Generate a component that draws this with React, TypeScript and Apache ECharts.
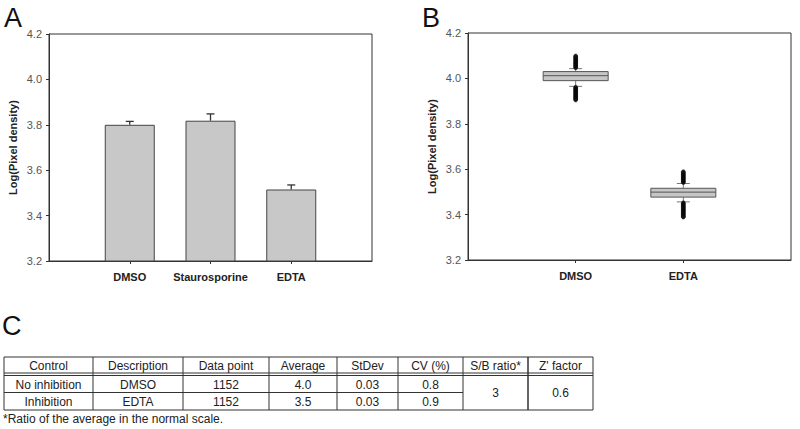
import React, { useEffect, useRef } from "react";
import * as echarts from "echarts";

// ---------- Data ----------
const categoriesA = ["DMSO", "Staurosporine", "EDTA"];
const barMeans = [3.8, 3.818, 3.515];
const barErrors = [0.015, 0.03, 0.02];

const categoriesB = ["DMSO", "EDTA"];
// [lower whisker, Q1, median, Q3, upper whisker]
const boxDMSO = [3.965, 3.99, 4.012, 4.03, 4.043];
const boxEDTA = [3.456, 3.477, 3.499, 3.516, 3.537];
const outliersDMSO = [
  4.047, 4.051, 4.055, 4.059, 4.063, 4.067, 4.071, 4.075, 4.079, 4.083, 4.087, 4.091, 4.095, 4.099,
  3.961, 3.957, 3.953, 3.949, 3.945, 3.941, 3.937, 3.933, 3.929, 3.925, 3.921, 3.917, 3.913, 3.909, 3.905,
];
const outliersEDTA = [
  3.541, 3.545, 3.549, 3.553, 3.557, 3.561, 3.565, 3.569, 3.573, 3.577, 3.581, 3.585, 3.589,
  3.452, 3.448, 3.444, 3.44, 3.436, 3.432, 3.428, 3.424, 3.42, 3.416, 3.412, 3.408, 3.404, 3.4, 3.396, 3.392, 3.389,
];
const yTicks = [3.2, 3.4, 3.6, 3.8, 4.0, 4.2];

// Table
const tableHeaders = ["Control", "Description", "Data point", "Average", "StDev", "CV (%)", "S/B ratio*", "Z' factor"];
const controls = ["No inhibition", "Inhibition"];
const descriptions = ["DMSO", "EDTA"];
const dataPoints = ["1152", "1152"];
const averages = ["4.0", "3.5"];
const stDevs = ["0.03", "0.03"];
const cvs = ["0.8", "0.9"];
const sbRatio = "3";
const zFactor = "0.6";
const footnote = "*Ratio of the average in the normal scale.";

// ---------- Layout ----------
const FONT = "'Liberation Sans', Arial, Helvetica, sans-serif";
const colEdges = [4, 93, 183, 269, 337, 398, 463, 528, 593];
const tTop = 357, tHead1 = 373, tHead2 = 375.5, tRow1 = 392.5, tBottom = 410;

function yAxisCfg() {
  return {
    type: "value",
    min: 3.2,
    max: 4.2,
    interval: 0.2,
    name: "Log(Pixel density)",
    nameLocation: "middle",
    nameGap: 31,
    nameRotate: 90,
    nameTextStyle: { fontFamily: FONT, fontSize: 11, fontWeight: "bold", color: "#222" },
    axisLine: { show: true, lineStyle: { color: "#333", width: 1 } },
    axisTick: { show: true, inside: false, length: 3, lineStyle: { color: "#333" } },
    axisLabel: {
      fontFamily: FONT,
      fontSize: 11,
      color: "#555",
      margin: 7,
      formatter: (v: number) => v.toFixed(1),
    },
    splitLine: { show: false },
  };
}

function xAxisCfg(cats: string[], gridIndex: number) {
  const data = ["", ...cats, ""];
  return {
    type: "category",
    gridIndex,
    data,
    boundaryGap: false,
    axisLine: { show: true, lineStyle: { color: "#333", width: 1 } },
    axisTick: {
      show: true,
      length: 3,
      interval: (_i: number, v: string) => v !== "",
      lineStyle: { color: "#333" },
    },
    axisLabel: {
      fontFamily: FONT,
      fontSize: 11,
      fontWeight: "bold",
      color: "#222",
      margin: 10,
      interval: 0,
    },
    splitLine: { show: false },
  };
}

function buildTable() {
  const els: any[] = [];
  const stroke = "#333";
  const hline = (x1: number, x2: number, y: number, w = 1) =>
    els.push({ type: "line", shape: { x1, y1: y, x2, y2: y }, style: { stroke, lineWidth: w }, silent: true });
  const vline = (x: number, y1: number, y2: number, w = 1) =>
    els.push({ type: "line", shape: { x1: x, y1, x2: x, y2 }, style: { stroke, lineWidth: w }, silent: true });
  const text = (t: string, cx: number, cy: number) =>
    els.push({
      type: "text",
      x: cx,
      y: cy,
      style: { text: t, fontFamily: FONT, fontSize: 12, fill: "#222", align: "center", verticalAlign: "middle" },
      silent: true,
    });

  const L = colEdges[0], R = colEdges[colEdges.length - 1];
  hline(L, R, tTop);
  hline(L, R, tHead1);
  hline(L, R, tHead2);
  hline(L, colEdges[6], tRow1);
  hline(L, R, tBottom);
  colEdges.forEach((x, i) => vline(x, tTop, tBottom, i === 7 ? 1.5 : 1));

  const mid = (i: number) => (colEdges[i] + colEdges[i + 1]) / 2;
  const hy = (tTop + tHead1) / 2 + 0.5;
  const r1 = (tHead2 + tRow1) / 2 + 0.5;
  const r2 = (tRow1 + tBottom) / 2 + 0.5;
  tableHeaders.forEach((h, i) => text(h, mid(i), hy));
  const rows = [controls, descriptions, dataPoints, averages, stDevs, cvs];
  rows.forEach((col, ci) => {
    text(col[0], mid(ci), r1);
    text(col[1], mid(ci), r2);
  });
  text(sbRatio, mid(6), (tHead2 + tBottom) / 2 + 0.5);
  text(zFactor, mid(7), (tHead2 + tBottom) / 2 + 0.5);

  els.push({
    type: "text",
    x: 3,
    y: 419,
    style: { text: footnote, fontFamily: FONT, fontSize: 12, fill: "#222", align: "left", verticalAlign: "middle" },
    silent: true,
  });
  return els;
}

function panelLabel(t: string, x: number, y: number) {
  return {
    type: "text",
    x,
    y,
    style: { text: t, fontFamily: FONT, fontSize: 27, fill: "#111", align: "left", verticalAlign: "middle" },
    silent: true,
  };
}

export default function App() {
  const ref = useRef<HTMLDivElement>(null);

  useEffect(() => {
    document.body.style.margin = "0";
    if (!ref.current) return;
    const chart = echarts.init(ref.current, undefined, { renderer: "svg" });

    const pad = (arr: any[]) => ["-", ...arr, "-"];

    const errData = barMeans.map((m, i) => [i + 1, m, barErrors[i]]);
    const boxData = [boxDMSO, boxEDTA].map((b, i) => [i + 1, ...b]);
    const outData = [
      ...outliersDMSO.map((v) => [1, v]),
      ...outliersEDTA.map((v) => [2, v]),
    ];

    const option: any = {
      animation: false,
      backgroundColor: "#fff",
      grid: [
        { left: 49, width: 323, top: 34, height: 227, show: true, borderColor: "#333", borderWidth: 1, containLabel: false },
        { left: 468, width: 323, top: 33, height: 227, show: true, borderColor: "#333", borderWidth: 1, containLabel: false },
      ],
      xAxis: [xAxisCfg(categoriesA, 0), xAxisCfg(categoriesB, 1)],
      yAxis: [
        { ...yAxisCfg(), gridIndex: 0 },
        { ...yAxisCfg(), gridIndex: 1 },
      ],
      series: [
        {
          type: "bar",
          xAxisIndex: 0,
          yAxisIndex: 0,
          data: pad(barMeans),
          barWidth: 50,
          clip: true,
          itemStyle: { color: "#c8c8c8", borderColor: "#444", borderWidth: 1 },
          z: 2,
        },
        {
          type: "custom",
          xAxisIndex: 0,
          yAxisIndex: 0,
          data: errData,
          encode: { x: 0, y: 1 },
          z: 3,
          renderItem: (_p: any, api: any) => {
            const x = api.value(0), v = api.value(1), e = api.value(2);
            const p0 = api.coord([x, v]);
            const p1 = api.coord([x, v + e]);
            const cw = 4;
            const st = { stroke: "#333", lineWidth: 1.3 };
            return {
              type: "group",
              children: [
                { type: "line", shape: { x1: p0[0], y1: p0[1], x2: p1[0], y2: p1[1] }, style: st },
                { type: "line", shape: { x1: p1[0] - cw, y1: p1[1], x2: p1[0] + cw, y2: p1[1] }, style: st },
              ],
            };
          },
        },
        {
          type: "custom",
          xAxisIndex: 1,
          yAxisIndex: 1,
          data: boxData,
          encode: { x: 0, y: [1, 2, 3, 4, 5] },
          z: 2,
          renderItem: (_p: any, api: any) => {
            const x = api.value(0);
            const lo = api.coord([x, api.value(1)]);
            const q1 = api.coord([x, api.value(2)]);
            const md = api.coord([x, api.value(3)]);
            const q3 = api.coord([x, api.value(4)]);
            const hi = api.coord([x, api.value(5)]);
            const bw = 65, cw = 6.5;
            const cx = lo[0];
            const wst = { stroke: "#777", lineWidth: 1 };
            return {
              type: "group",
              children: [
                { type: "line", shape: { x1: cx, y1: q1[1], x2: cx, y2: lo[1] }, style: wst },
                { type: "line", shape: { x1: cx, y1: q3[1], x2: cx, y2: hi[1] }, style: wst },
                { type: "line", shape: { x1: cx - cw, y1: lo[1], x2: cx + cw, y2: lo[1] }, style: wst },
                { type: "line", shape: { x1: cx - cw, y1: hi[1], x2: cx + cw, y2: hi[1] }, style: wst },
                {
                  type: "rect",
                  shape: { x: cx - bw / 2, y: q3[1], width: bw, height: q1[1] - q3[1] },
                  style: { fill: "#c6c6c6", stroke: "#555", lineWidth: 1 },
                },
                { type: "line", shape: { x1: cx - bw / 2, y1: md[1], x2: cx + bw / 2, y2: md[1] }, style: { stroke: "#555", lineWidth: 1 } },
              ],
            };
          },
        },
        {
          type: "scatter",
          xAxisIndex: 1,
          yAxisIndex: 1,
          data: outData,
          symbol: "circle",
          symbolSize: 4,
          itemStyle: { color: "#111", borderColor: "#000", borderWidth: 0.5 },
          z: 4,
        },
      ],
      graphic: [
        panelLabel("A", 4, 18),
        panelLabel("B", 422, 18),
        panelLabel("C", 2, 326),
        ...buildTable(),
      ],
    };

    chart.setOption(option);
    return () => chart.dispose();
  }, []);

  return <div ref={ref} style={{ width: 800, height: 429 }} />;
}
